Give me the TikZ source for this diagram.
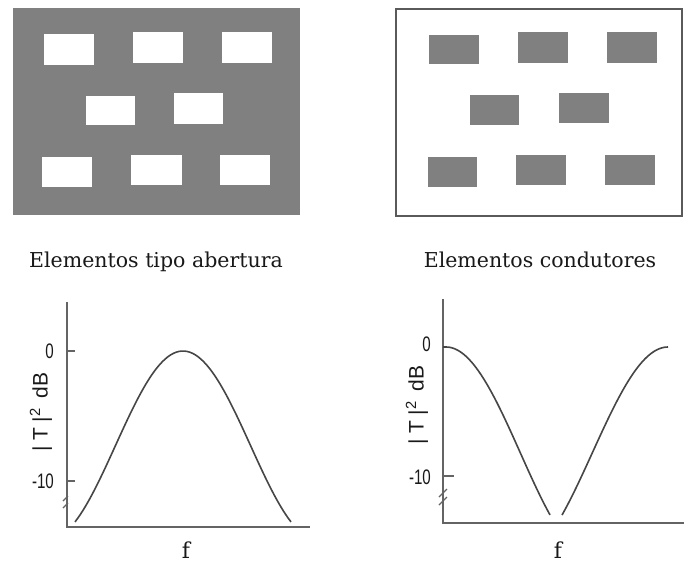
\documentclass[tikz,border=0pt]{standalone}
\usepackage{fontspec}
\setmainfont{DejaVu Serif}
\newfontfamily\lblfont{Liberation Sans}
\begin{document}
\begin{tikzpicture}[x=1pt,y=-1pt,
  panelgray/.style={fill=elemgray,draw=none},
  hole/.style={fill=white,draw=none},
  elem/.style={fill=elemgray,draw=none},
  framebox/.style={draw=framegray,line width=1.8pt,fill=white},
  axisline/.style={draw=axisgray,line width=1.8pt},
  tickline/.style={draw=axisgray,line width=1.2pt},
  curve/.style={draw=curvegray,line width=1.6pt},
  caption/.style={font=\fontsize{20.5}{22}\selectfont,text=textgray,inner sep=0pt,anchor=base},
  ticklbl/.style={font=\lblfont\fontsize{21}{22}\selectfont,text=textgray,inner sep=0pt,anchor=east,xscale=0.72},
  ylbl/.style={font=\lblfont\fontsize{21}{22}\selectfont,text=textgray,inner sep=0pt,rotate=90},
  flbl/.style={font=\fontsize{22}{24}\selectfont,text=textgray,inner sep=0pt,anchor=base},
]
\definecolor{elemgray}{RGB}{128,128,128}
\definecolor{framegray}{RGB}{90,90,90}
\definecolor{axisgray}{RGB}{100,100,100}
\definecolor{curvegray}{RGB}{70,70,70}
\definecolor{textgray}{RGB}{25,25,25}
\useasboundingbox (0,0) rectangle (684,565);
\fill[white] (0,0) rectangle (684,565);

% ---- left panel: apertures ----
\fill[panelgray] (13,8) rectangle (300,215);
\foreach \a/\b/\c/\d in {44/34/94/65, 133/32/183/63, 222/32/272/63,
                         86/96/135/125, 174/93/223/124,
                         42/157/92/187, 131/155/182/185, 220/155/270/185}
  \fill[hole] (\a,\b) rectangle (\c,\d);

% ---- right panel: conductors ----
\draw[framebox] (396,9) rectangle (682,216);
\foreach \a/\b/\c/\d in {429/35/479/64, 518/32/568/63, 607/32/657/63,
                         470/95/519/125, 559/93/609/123,
                         428/157/477/187, 516/155/566/185, 605/155/655/185}
  \fill[elem] (\a,\b) rectangle (\c,\d);

% ---- captions ----
\node[caption] (capL) at (156,267) {Elementos tipo abertura};
\node[caption] (capR) at (540,267) {Elementos condutores};

% ---- left plot ----
\coordinate (oL) at (67,527);
\coordinate (topL) at (67,302);
\coordinate (endL) at (310,527);
\draw[axisline] (topL) -- (oL) -- (endL);
\coordinate (t0L) at (67,351);
\coordinate (t10L) at (67,481);
\draw[tickline] (t0L) -- ++(8,0);
\draw[tickline] (t10L) -- ++(8,0);
\draw[tickline] (63,501) -- (68,496) (63,508) -- (68,503);
\node[ticklbl] (zeroL) at (54,351) {0};
\node[ticklbl] (tenL) at (54,481) {-10};
\node[ylbl] (yL) at (41,412) {|\hspace{5pt}T\hspace{5pt}|\hspace{1pt}\textsuperscript{2}\hspace*{9pt}dB};
\node[flbl] (fL) at (186,558) {f};
\draw[curve] plot[domain=-108:108,samples=80,smooth] ({183+\x},{351+94.5*(1-cos(1.333*\x))});

% ---- right plot ----
\coordinate (oR) at (443,523);
\coordinate (topR) at (443,299);
\coordinate (endR) at (684,523);
\draw[axisline] (topR) -- (oR) -- (endR);
\coordinate (t10R) at (443,476);
\draw[tickline] (t10R) -- ++(11,0);
\draw[tickline] (439,497) -- (447,489) (439,505) -- (447,497);
\node[ticklbl] (zeroR) at (431,344) {0};
\node[ticklbl] (tenR) at (431,477) {-10};
\node[ylbl] (yR) at (417,405) {|\hspace{5pt}T\hspace{5pt}|\hspace{1pt}\textsuperscript{2}\hspace*{9pt}dB};
\node[flbl] (fR) at (558,558) {f};
\draw[curve] (443,347) -- (446,347) plot[domain=0:104,samples=60,smooth] ({446+\x},{347+105.7*(1-cos(1.212*\x))});
\draw[curve] plot[domain=-106:0,samples=60,smooth] ({668+\x},{347+105.7*(1-cos(1.19*\x))});
\end{tikzpicture}
\end{document}
